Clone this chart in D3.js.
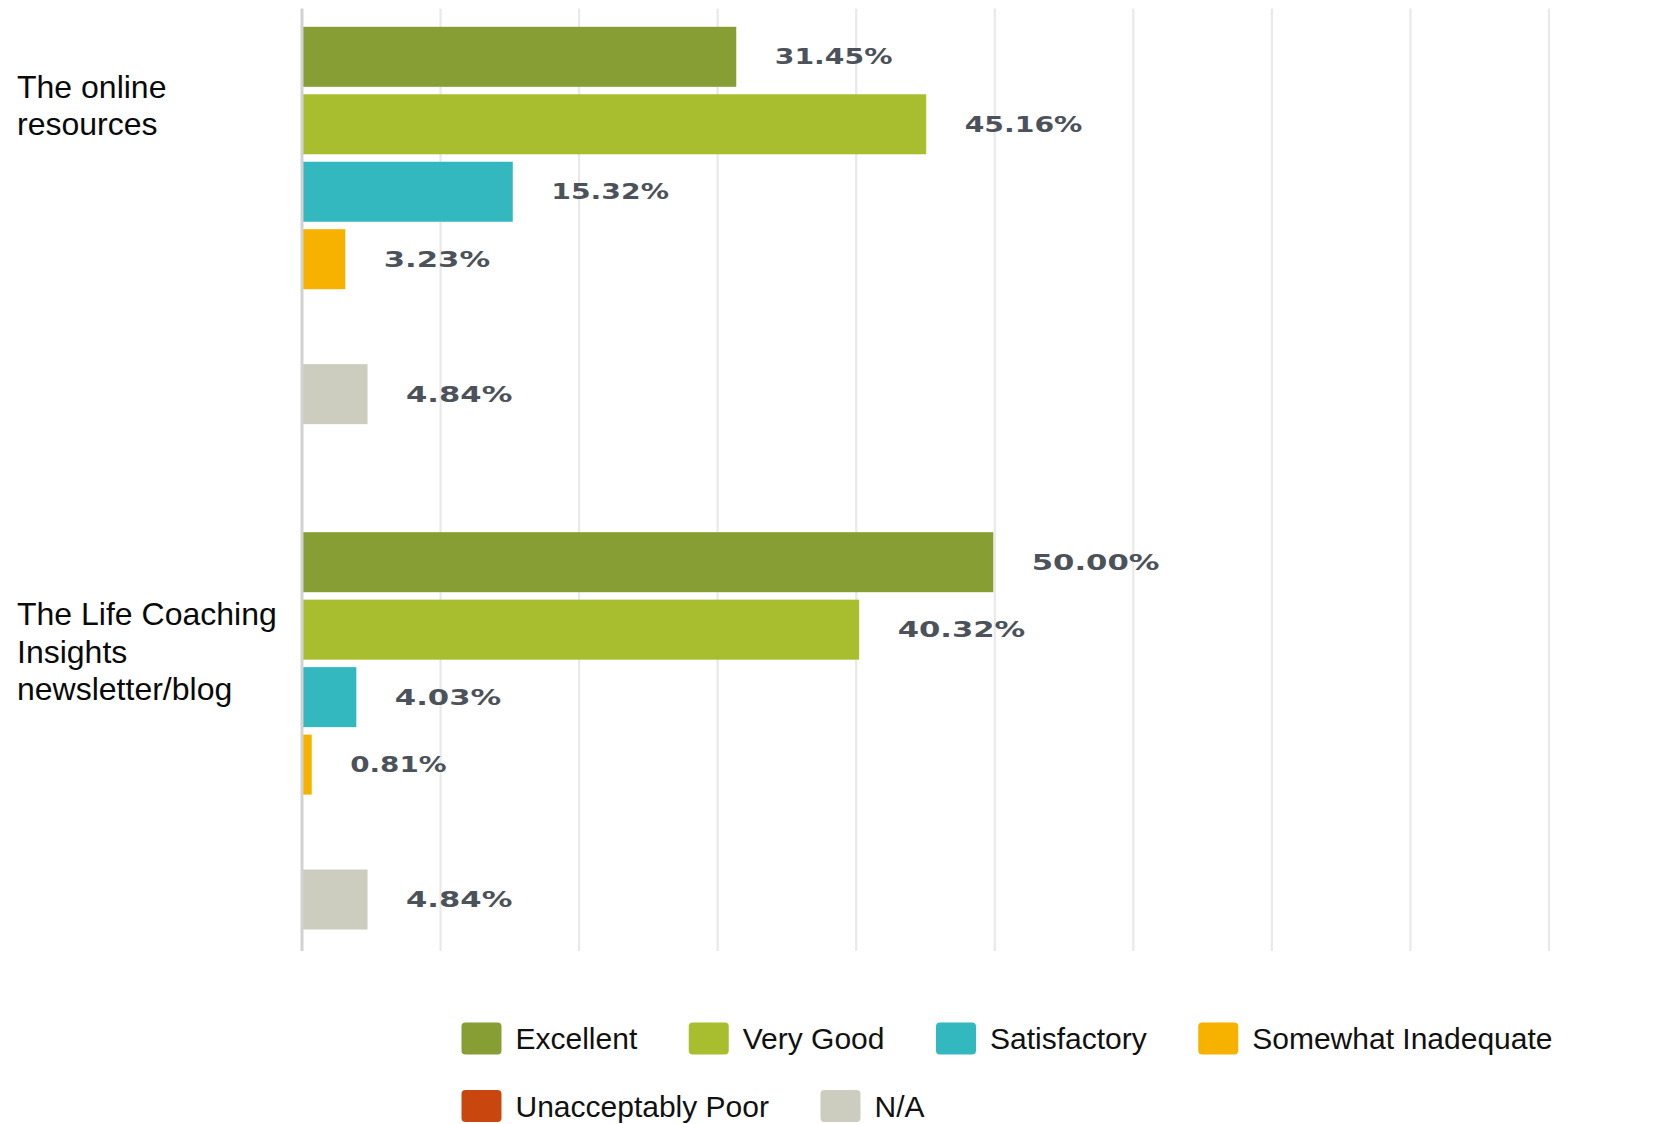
<!DOCTYPE html>
<html>
<head>
<meta charset="utf-8">
<script src="https://cdn.jsdelivr.net/npm/d3@7"></script>
<style>
  html, body { margin: 0; padding: 0; background: #ffffff; }
  svg { display: block; }
</style>
</head>
<body>
<svg id="chart" width="1679" height="1124"></svg>
<script>
// ---- data ----
const categories = ["The online resources", "The Life Coaching Insights newsletter/blog"];
const categoryLines = [["The online", "resources"], ["The Life Coaching", "Insights", "newsletter/blog"]];
const series = ["Excellent", "Very Good", "Satisfactory", "Somewhat Inadequate", "Unacceptably Poor", "N/A"];
const onlineResources = [31.45, 45.16, 15.32, 3.23, 0, 4.84];
const lifeCoachingBlog = [50.00, 40.32, 4.03, 0.81, 0, 4.84];
const xTicks = [0, 10, 20, 30, 40, 50, 60, 70, 80, 90];
const seriesColors = ["#869e34", "#a8be2e", "#34b8bf", "#f7b200", "#c9470f", "#cdcdbf"];

const valuesByCategory = [onlineResources, lifeCoachingBlog];
const rows = [];
categories.forEach((c, ci) => {
  series.forEach((s, si) => rows.push({ category: c, series: s, value: valuesByCategory[ci][si] }));
});

// ---- layout ----
const svg = d3.select("#chart");
const plotTop = 8.6, plotBottom = 951;

const x = d3.scaleLinear().domain([0, 90]).range([302, 1549]);
const y = d3.scaleBand().domain(categories).range([23.07, 933.27]).paddingInner(0.199).paddingOuter(0);
const yInner = d3.scaleBand().domain(series).range([0, y.bandwidth()]).paddingInner(0.1106).paddingOuter(0.0553);
const color = d3.scaleOrdinal().domain(series).range(seriesColors);

// gridlines
svg.append("g").selectAll("line")
  .data(xTicks.filter(t => t > 0))
  .join("line")
  .attr("x1", d => x(d)).attr("x2", d => x(d))
  .attr("y1", plotTop).attr("y2", plotBottom)
  .attr("stroke", "#e9e9e9").attr("stroke-width", 2.2);

// bars
svg.append("g").selectAll("rect")
  .data(rows)
  .join("rect")
  .attr("x", x(0))
  .attr("y", d => y(d.category) + yInner(d.series))
  .attr("width", d => Math.max(0, x(d.value) - x(0) - 1.5))
  .attr("height", yInner.bandwidth())
  .attr("fill", d => color(d.series));

// axis line (baseline)
svg.append("line")
  .attr("x1", x(0)).attr("x2", x(0))
  .attr("y1", plotTop).attr("y2", plotBottom)
  .attr("stroke", "#d2d2d2").attr("stroke-width", 3);

// value labels
const vl = svg.append("g").selectAll("text")
  .data(rows.filter(d => d.value > 0))
  .join("text")
  .attr("x", d => x(d.value) + 37)
  .attr("y", d => y(d.category) + yInner(d.series) + yInner.bandwidth() / 2)
  .attr("dy", "0.36em")
  .attr("font-family", "'DejaVu Sans', sans-serif")
  .attr("font-weight", "bold")
  .attr("font-size", 21)
  .attr("fill", "#4c525a")
  .text(d => d.value.toFixed(2) + "%");
vl.each(function(d) {
  const w = this.getComputedTextLength();
  const ones = (d.value.toFixed(2).match(/1/g) || []).length;
  d3.select(this).attr("textLength", w * 1.46 - 10 * ones).attr("lengthAdjust", "spacingAndGlyphs");
});

// category labels
const firstBaselineOffset = [75, 97];
categories.forEach((c, ci) => {
  const t = svg.append("text")
    .attr("x", 17)
    .attr("y", y(c) + firstBaselineOffset[ci])
    .attr("font-family", "'Liberation Sans', Arial, sans-serif")
    .attr("font-size", 32)
    .attr("fill", "#0a0a0a");
  categoryLines[ci].forEach((line, li) => {
    t.append("tspan").attr("x", 17).attr("dy", li === 0 ? 0 : 37.2).text(line);
  });
});

// legend
const legend = svg.append("g");
const legStartX = 461.5, legTop = 1022.5, legRowStep = 67.5, swW = 40, swH = 32, textGap = 14, itemGap = 51.5, maxRight = 1610;
let lx = legStartX, row = 0;
series.forEach((s, i) => {
  const g = legend.append("g");
  const txt = g.append("text")
    .attr("font-family", "'Liberation Sans', Arial, sans-serif")
    .attr("font-size", 30)
    .attr("fill", "#111111")
    .attr("dy", "0.35em")
    .text(s);
  const tw = txt.node().getComputedTextLength();
  const itemW = swW + textGap + tw;
  if (lx + itemW > maxRight && lx > legStartX) { row += 1; lx = legStartX; }
  const top = legTop + row * legRowStep;
  g.append("rect")
    .attr("x", lx).attr("y", top)
    .attr("width", swW).attr("height", swH)
    .attr("rx", 4).attr("ry", 4)
    .attr("fill", color(s));
  txt.attr("x", lx + swW + textGap).attr("y", top + swH / 2);
  lx += itemW + itemGap;
});
</script>
</body>
</html>
